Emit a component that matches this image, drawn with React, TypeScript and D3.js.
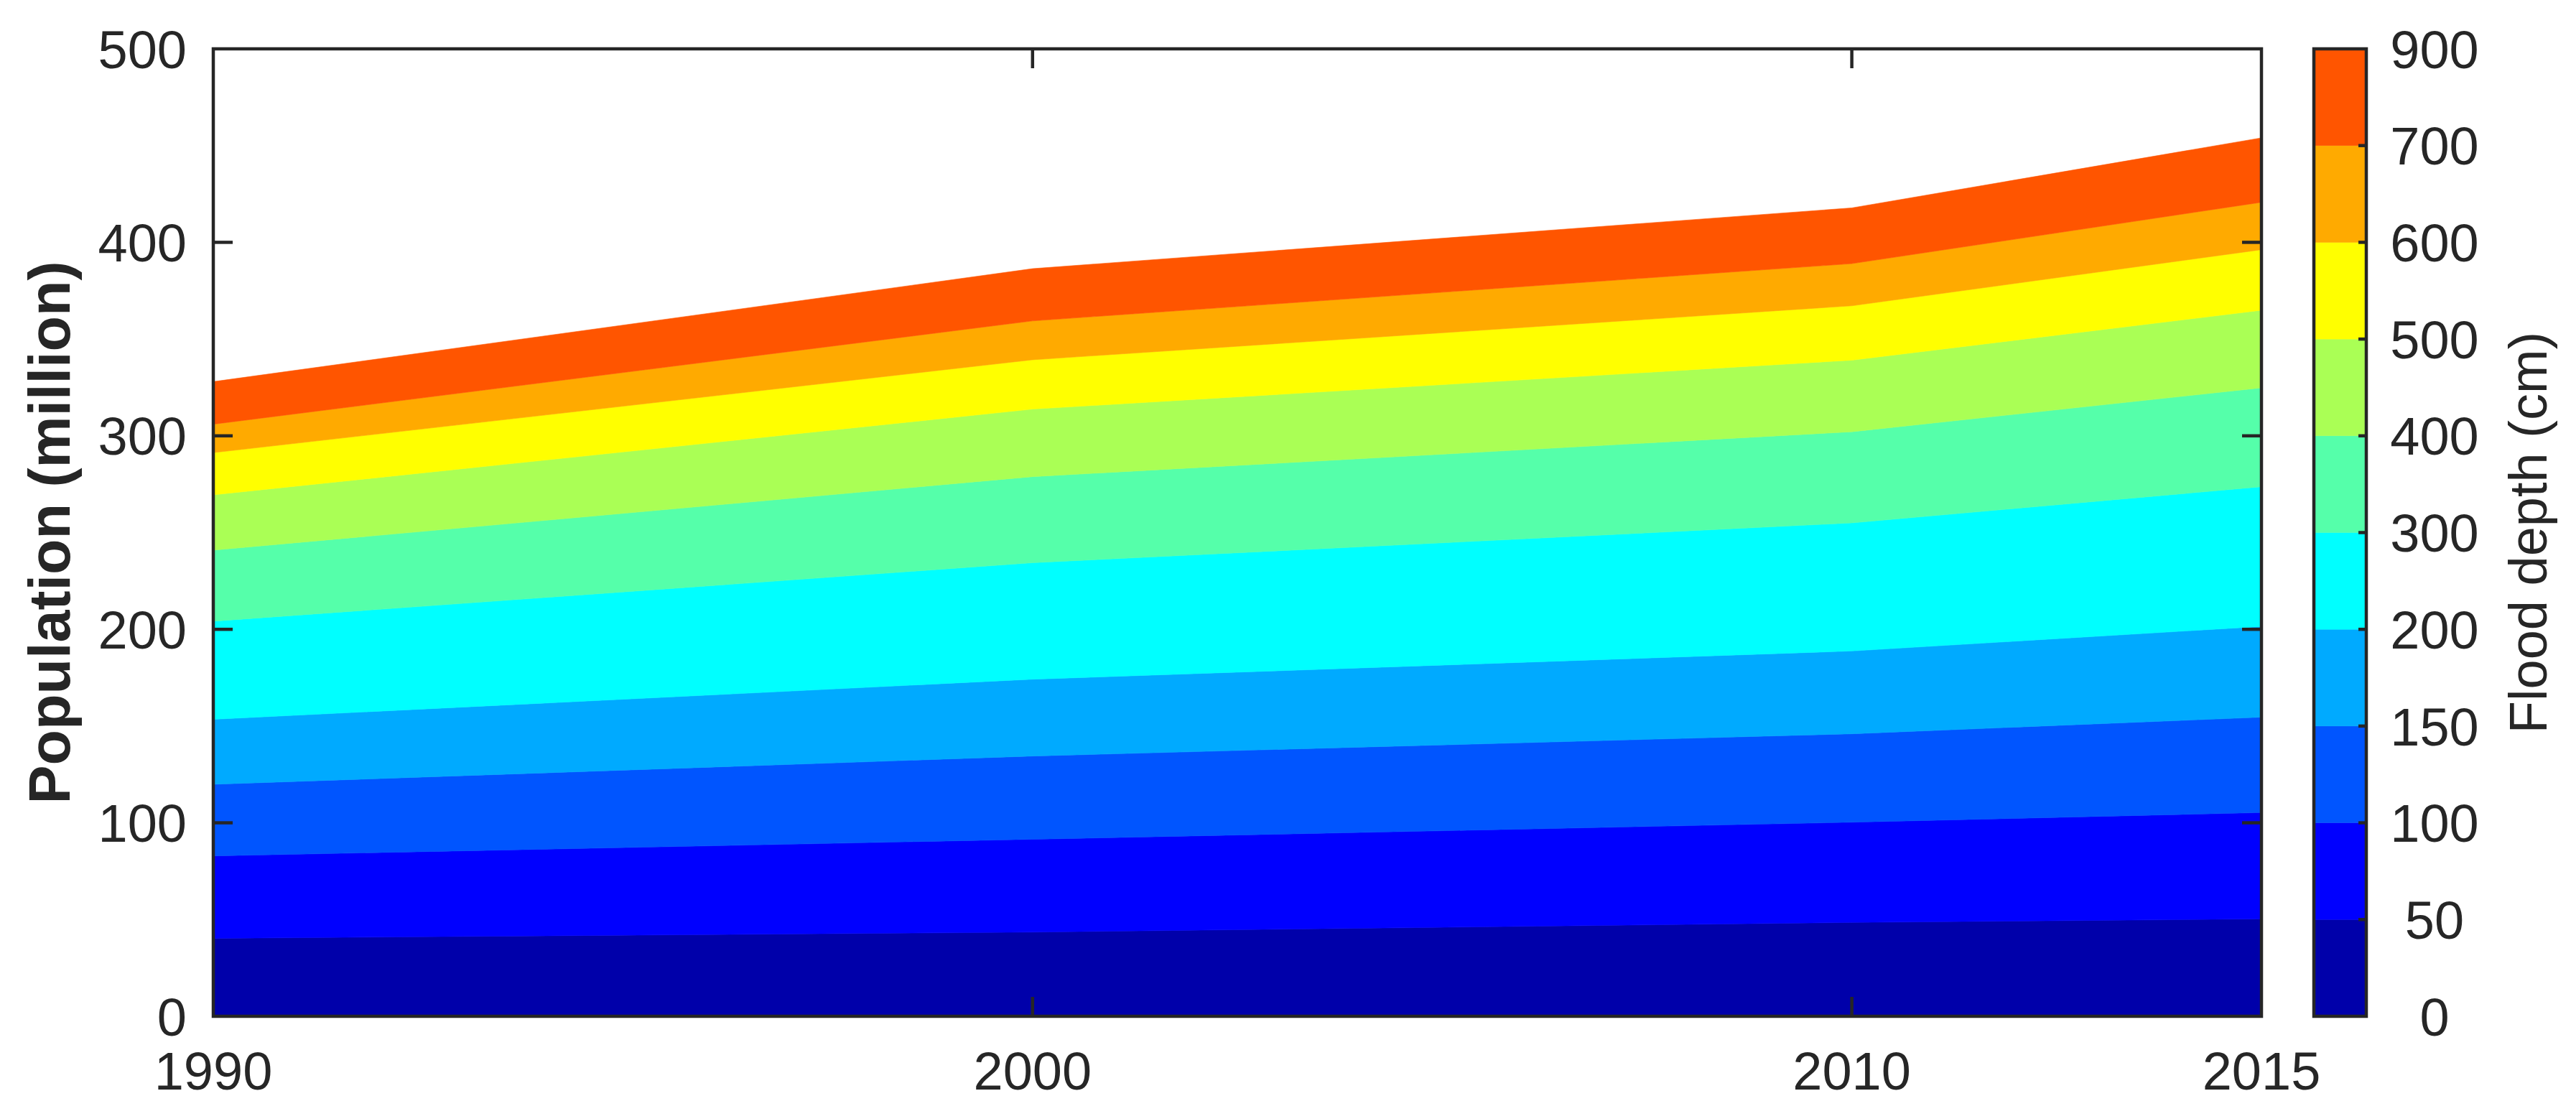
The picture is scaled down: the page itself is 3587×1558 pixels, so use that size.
import React from 'react';
import * as d3 from 'd3';

// ---- data (population in million per flood-depth band) ----
const years = [1990, 2000, 2010, 2015];
const bandNames = ['0-50', '50-100', '100-150', '150-200', '200-300', '300-400', '400-500', '500-600', '600-700', '700-900'];
const band0to50 = [40.3, 43.5, 48.5, 50.3];
const band50to100 = [42.6, 48.0, 51.8, 55.0];
const band100to150 = [37.0, 43.0, 45.7, 49.3];
const band150to200 = [33.6, 39.7, 42.8, 46.9];
const band200to300 = [50.7, 60.2, 66.2, 72.2];
const band300to400 = [36.7, 44.5, 47.1, 51.1];
const band400to500 = [28.6, 34.9, 37.0, 40.1];
const band500to600 = [21.8, 25.5, 28.1, 31.3];
const band600to700 = [14.7, 20.1, 21.8, 24.5];
const band700to900 = [22.0, 27.0, 28.8, 33.3];
const bandColors = ['#0000AA', '#0000FF', '#0055FF', '#00AAFF', '#00FFFF', '#55FFAA', '#AAFF55', '#FFFF00', '#FFAA00', '#FF5500'];
const yTicks = [0, 100, 200, 300, 400, 500];
const xTicks = [1990, 2000, 2010, 2015];
const colorbarLabels = ['0', '50', '100', '150', '200', '300', '400', '500', '600', '700', '900'];

const W = 3587;
const H = 1558;
const M = { left: 297, right: 3149, top: 68, bottom: 1415 };
const CB = { left: 3222, right: 3295 };
const INK = '#262626';
const FONT = '"Liberation Sans", Arial, Helvetica, sans-serif';
const FS = 74;

export default function App() {
  const bandSeries = [band0to50, band50to100, band100to150, band150to200, band200to300, band300to400, band400to500, band500to600, band600to700, band700to900];
  const table = years.map((yr, i) => {
    const row: Record<string, number> = { year: yr };
    bandNames.forEach((b, k) => { row[b] = bandSeries[k][i]; });
    return row;
  });
  const stacked = d3.stack<Record<string, number>>().keys(bandNames)(table);

  const x = d3.scaleLinear().domain([1990, 2015]).range([M.left, M.right]);
  const y = d3.scaleLinear().domain([0, 500]).range([M.bottom, M.top]);
  const cb = d3.scaleLinear().domain([0, colorbarLabels.length - 1]).range([M.bottom, M.top]);

  const area = d3.area<any>()
    .x((d) => x(d.data.year))
    .y0((d) => y(d[0]))
    .y1((d) => y(d[1]))
    .curve(d3.curveLinear);

  const tickLen = 27;
  const sw = 4.5;

  return (
    <svg width={W} height={H} style={{ position: 'absolute', left: 0, top: 0, background: '#fff' }} fontFamily={FONT}>
      <rect x={0} y={0} width={W} height={H} fill="#fff" />
      {/* stacked areas */}
      <g>
        {stacked.map((s, i) => (
          <path key={s.key} d={area(s as any) || ''} fill={bandColors[i]} stroke={bandColors[i]} strokeWidth={0.6} />
        ))}
      </g>
      {/* ticks */}
      <g stroke={INK} strokeWidth={sw}>
        {yTicks.filter((t) => t > 0 && t < 500).map((t) => (
          <g key={'yt' + t}>
            <line x1={M.left} x2={M.left + tickLen} y1={y(t)} y2={y(t)} />
            <line x1={M.right} x2={M.right - tickLen} y1={y(t)} y2={y(t)} />
          </g>
        ))}
        {xTicks.filter((t) => t > 1990 && t < 2015).map((t) => (
          <g key={'xt' + t}>
            <line x1={x(t)} x2={x(t)} y1={M.bottom} y2={M.bottom - tickLen} />
            <line x1={x(t)} x2={x(t)} y1={M.top} y2={M.top + tickLen} />
          </g>
        ))}
      </g>
      {/* frame */}
      <rect x={M.left} y={M.top} width={M.right - M.left} height={M.bottom - M.top} fill="none" stroke={INK} strokeWidth={sw} />
      {/* y tick labels */}
      <g fill={INK} fontSize={FS} textAnchor="end">
        {yTicks.map((t) => (
          <text key={'yl' + t} x={M.left - 37} y={y(t)} dy="0.36em">{t}</text>
        ))}
      </g>
      {/* x tick labels */}
      <g fill={INK} fontSize={FS} textAnchor="middle">
        {xTicks.map((t) => (
          <text key={'xl' + t} x={x(t)} y={1517}>{t}</text>
        ))}
      </g>
      {/* y title */}
      <text transform={`translate(97,${(M.top + M.bottom) / 2}) rotate(-90)`} textAnchor="middle" fontSize={81} fontWeight="bold" fill={INK}>
        Population (million)
      </text>
      {/* colorbar */}
      <g>
        {bandColors.map((c, i) => (
          <rect key={'cb' + i} x={CB.left} width={CB.right - CB.left} y={cb(i + 1)} height={cb(i) - cb(i + 1)} fill={c} stroke={c} strokeWidth={0.5} />
        ))}
      </g>
      <g stroke={INK} strokeWidth={sw}>
        {colorbarLabels.map((_, i) => (i > 0 && i < colorbarLabels.length - 1 ? (
          <line key={'cbt' + i} x1={CB.right} x2={CB.right - 11} y1={cb(i)} y2={cb(i)} />
        ) : null))}
      </g>
      <rect x={CB.left} y={M.top} width={CB.right - CB.left} height={M.bottom - M.top} fill="none" stroke={INK} strokeWidth={sw} />
      <g fill={INK} fontSize={FS} textAnchor="middle">
        {colorbarLabels.map((l, i) => (
          <text key={'cbl' + i} x={3390} y={cb(i)} dy="0.36em">{l}</text>
        ))}
      </g>
      <text transform={`translate(3546,${(M.top + M.bottom) / 2}) rotate(-90)`} textAnchor="middle" fontSize={FS} fill={INK}>
        Flood depth (cm)
      </text>
    </svg>
  );
}
